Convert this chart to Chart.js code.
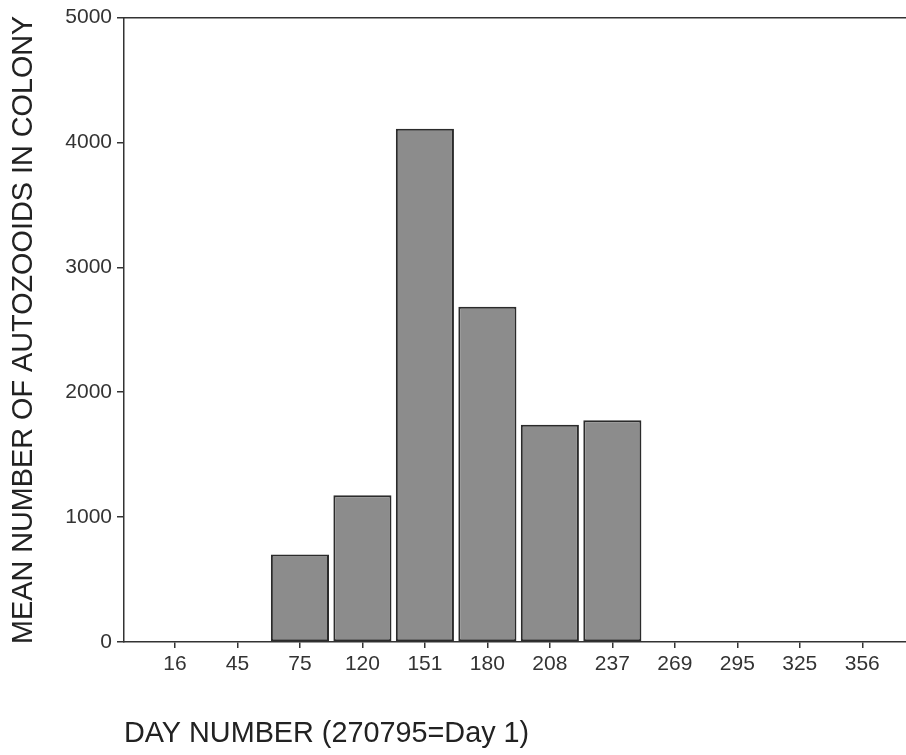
<!DOCTYPE html>
<html>
<head>
<meta charset="utf-8">
<script src="https://cdn.jsdelivr.net/npm/chart.js@4"></script>
<style>
  html, body { margin: 0; padding: 0; background: #ffffff; }
  #wrap { width: 906px; height: 755px; }
</style>
</head>
<body>
<div id="wrap"><canvas id="c" width="906" height="755"></canvas></div>
<script>
const dayLabels = ['16', '45', '75', '120', '151', '180', '208', '237', '269', '295', '325', '356'];
const meanAutozooids = [null, null, 700, 1175, 4110, 2685, 1740, 1775, null, null, null, null];
const yTicks = [0, 1000, 2000, 3000, 4000, 5000];
const yTitle = 'MEAN NUMBER OF AUTOZOOIDS IN COLONY';
const xTitle = 'DAY NUMBER (270795=Day 1)';

const FONT = "'Liberation Sans', Arial, sans-serif";
const AXIS = '#333333';

const points = dayLabels.map((d, i) => ({ x: i, y: meanAutozooids[i] }));

new Chart(document.getElementById('c'), {
  type: 'bar',
  data: {
    datasets: [{
      data: points,
      backgroundColor: '#8c8c8c',
      borderColor: '#2b2b2b',
      borderWidth: 2,
      borderSkipped: false,
      categoryPercentage: 1,
      barPercentage: 0.93
    }]
  },
  options: {
    responsive: false,
    devicePixelRatio: 1,
    animation: false,
    layout: { padding: 0 },
    plugins: { legend: { display: false }, tooltip: { enabled: false } },
    scales: {
      x: {
        type: 'linear',
        position: 'bottom',
        offset: false,
        min: -0.816,
        max: 11.7,
        afterBuildTicks: s => { s.ticks = dayLabels.map((d, i) => ({ value: i })); },
        afterFit: s => { s.height = 113; },
        ticks: {
          autoSkip: false,
          maxRotation: 0,
          padding: 4,
          color: '#333333',
          font: { family: FONT, size: 21 },
          callback: v => dayLabels[v]
        },
        grid: { offset: false, drawOnChartArea: false, tickLength: 6, color: AXIS, lineWidth: 1.5 },
        border: { display: true, color: AXIS, width: 1.5 },
        title: {
          display: true,
          text: xTitle,
          align: 'start',
          color: '#222222',
          font: { family: FONT, size: 28.8, weight: 'normal' },
          padding: { top: 0, bottom: 4 }
        }
      },
      xTop: {
        type: 'linear',
        position: 'top',
        min: 0,
        max: 1,
        afterFit: s => { s.height = 14; },
        ticks: { display: false },
        grid: { display: false },
        border: { display: true, color: AXIS, width: 1.5 }
      },
      y: {
        type: 'linear',
        min: 0,
        max: 5000,
        afterBuildTicks: s => { s.ticks = yTicks.map(v => ({ value: v })); },
        afterFit: s => { s.width = 124; },
        ticks: {
          padding: 5,
          color: '#333333',
          font: { family: FONT, size: 21 },
          callback: v => String(v)
        },
        grid: { drawOnChartArea: false, tickLength: 7, color: AXIS, lineWidth: 1.5 },
        border: { display: true, color: AXIS, width: 1.5 },
        title: {
          display: true,
          text: yTitle,
          color: '#222222',
          font: { family: FONT, size: 28.8, weight: 'normal' },
          padding: { top: 7, bottom: 0 }
        }
      }
    }
  }
});
</script>
</body>
</html>
